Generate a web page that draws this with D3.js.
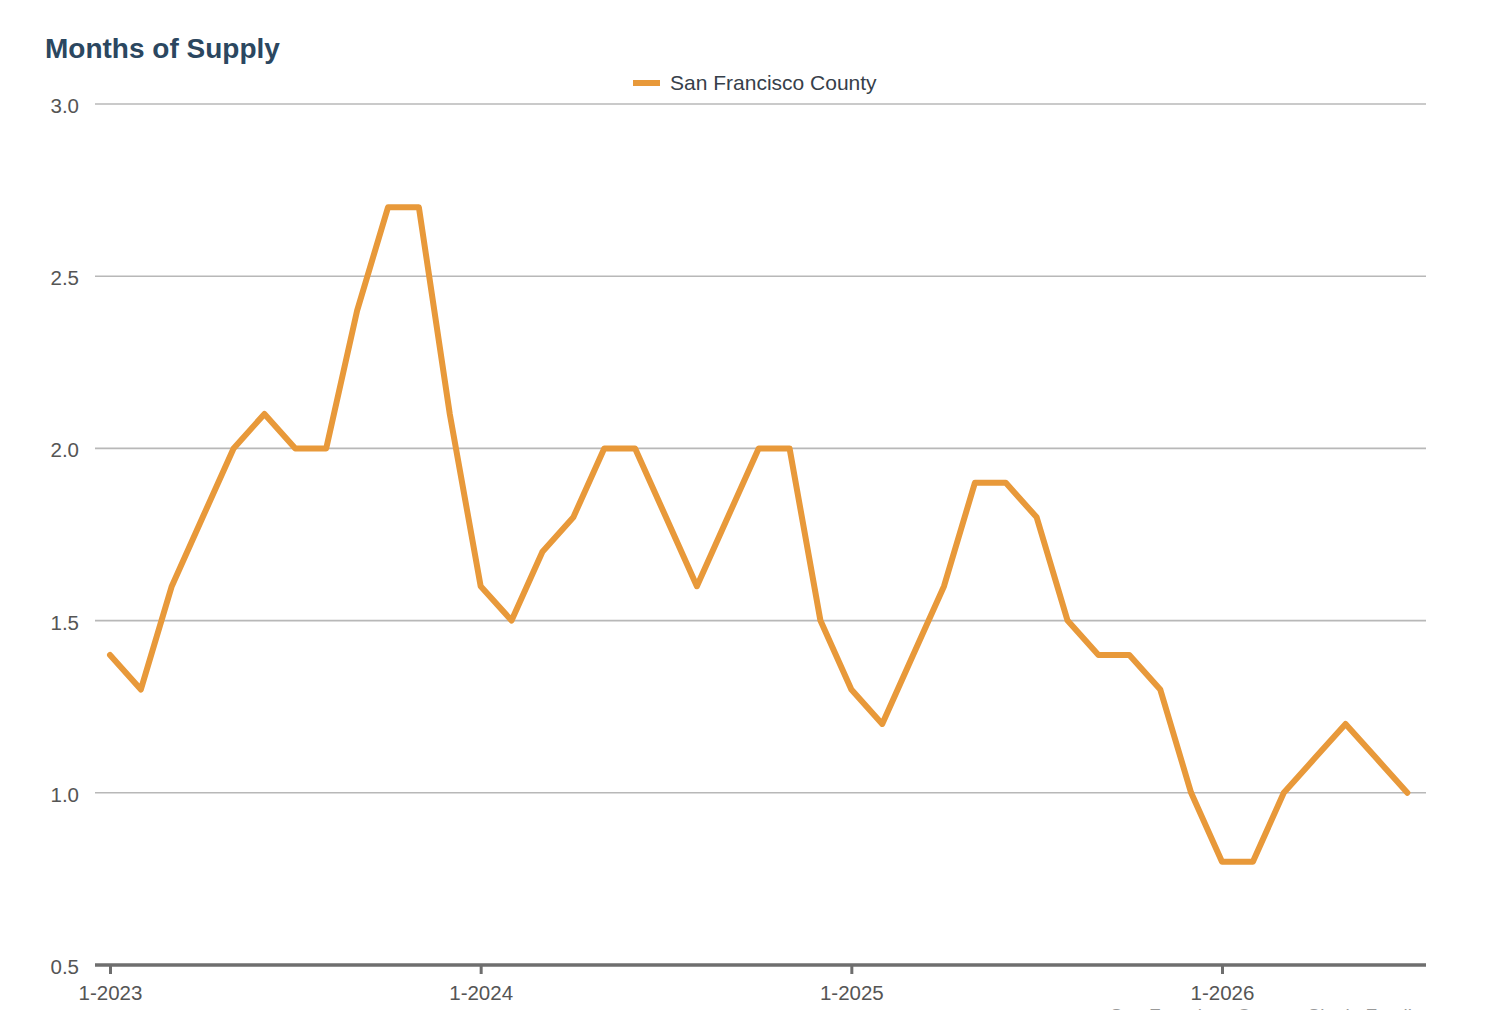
<!DOCTYPE html>
<html>
<head>
<meta charset="utf-8">
<script src="https://cdn.jsdelivr.net/npm/d3@7/dist/d3.min.js"></script>
<style>
  html, body { margin: 0; padding: 0; background: #fff; }
  svg { display: block; font-family: "Liberation Sans", Arial, sans-serif; }
</style>
</head>
<body>
<svg id="chart" width="1498" height="1010"></svg>
<script>
const title = "Months of Supply";
const seriesName = "San Francisco County";
const footnote = "San Francisco County: Single Family";
const values = [
  1.4, 1.3, 1.6, 1.8, 2.0, 2.1, 2.0, 2.0, 2.4, 2.7, 2.7, 2.1,
  1.6, 1.5, 1.7, 1.8, 2.0, 2.0, 1.8, 1.6, 1.8, 2.0, 2.0, 1.5,
  1.3, 1.2, 1.4, 1.6, 1.9, 1.9, 1.8, 1.5, 1.4, 1.4, 1.3, 1.0,
  0.8, 0.8, 1.0, 1.1, 1.2, 1.1, 1.0
];
const yTicks = [0.5, 1.0, 1.5, 2.0, 2.5, 3.0];
const xTickLabels = ["1-2023", "1-2024", "1-2025", "1-2026"];
const xTickIndex = [0, 12, 24, 36];

const data = values.map((v, i) => ({ i: i, value: v }));

const svg = d3.select("#chart");
const plotLeft = 95, plotRight = 1426, plotTop = 104, plotBottom = 965;

const x = d3.scaleLinear().domain([0, 36]).range([110, 1222]);
const y = d3.scaleLinear().domain([0.5, 3.0]).range([plotBottom, plotTop]);

// title
svg.append("text")
  .attr("x", 45).attr("y", 58)
  .attr("font-size", 28).attr("font-weight", "bold")
  .attr("fill", "#2b4760")
  .text(title);

// legend
svg.append("line")
  .attr("x1", 633).attr("x2", 660).attr("y1", 83).attr("y2", 83)
  .attr("stroke", "#E8993A").attr("stroke-width", 6);
svg.append("text")
  .attr("x", 670).attr("y", 90)
  .attr("font-size", 21).attr("fill", "#36404a")
  .text(seriesName);

// gridlines
svg.append("g").selectAll("line")
  .data(yTicks.filter(t => t > 0.5))
  .join("line")
  .attr("x1", plotLeft).attr("x2", plotRight)
  .attr("y1", d => y(d)).attr("y2", d => y(d))
  .attr("stroke", "#b8b8b8").attr("stroke-width", 1.6);

// y axis labels
const yAxis = d3.axisLeft(y).tickValues(yTicks).tickFormat(d3.format(".1f")).tickSize(0).tickPadding(0);
const yg = svg.append("g").attr("transform", `translate(79,2)`).call(yAxis);
yg.select(".domain").remove();
yg.selectAll("text").attr("font-size", 20.5).attr("fill", "#555").attr("font-family", "Liberation Sans, Arial, sans-serif");

// x axis
const xAxis = d3.axisBottom(x).tickValues(xTickIndex).tickFormat((d, i) => xTickLabels[i]).tickSize(9).tickSizeOuter(0).tickPadding(11);
const xg = svg.append("g").attr("transform", `translate(0,${plotBottom})`).call(xAxis);
xg.select(".domain").attr("d", `M${plotLeft},0H${plotRight}`).attr("stroke", "#6e6e6e").attr("stroke-width", 3.5);
xg.selectAll(".tick line").attr("stroke", "#6e6e6e").attr("stroke-width", 3);
xg.selectAll("text").attr("font-size", 20.5).attr("fill", "#555").attr("font-family", "Liberation Sans, Arial, sans-serif");

// line
const line = d3.line().x(d => x(d.i)).y(d => y(d.value));
svg.append("path")
  .datum(data)
  .attr("d", line)
  .attr("fill", "none")
  .attr("stroke", "#E8993A")
  .attr("stroke-width", 6)
  .attr("stroke-linejoin", "round")
  .attr("stroke-linecap", "round");

// footnote (partially cut off at bottom edge, as in the reference)
svg.append("text")
  .attr("x", 1110).attr("y", 1022)
  .attr("font-size", 19).attr("fill", "#999")
  .text(footnote);
</script>
</body>
</html>
